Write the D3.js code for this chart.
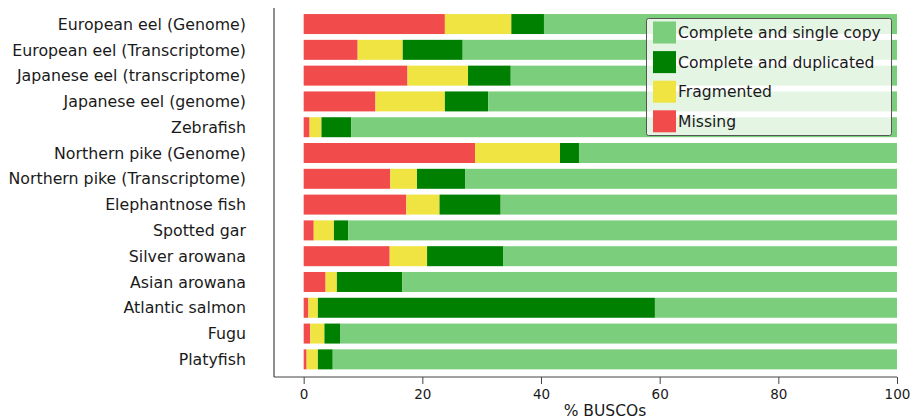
<!DOCTYPE html>
<html>
<head>
<meta charset="utf-8">
<script src="https://cdn.jsdelivr.net/npm/d3@7"></script>
<style>
  html, body { margin: 0; padding: 0; background: #fff; }
  svg { display: block; font-family: "DejaVu Sans", Verdana, sans-serif; }
</style>
</head>
<body>
<svg id="chart" width="913" height="419"></svg>
<script>
// BUSCO completeness per assembly (percent of BUSCO genes)
const categories = [
  "European eel (Genome)",
  "European eel (Transcriptome)",
  "Japanese eel (transcriptome)",
  "Japanese eel (genome)",
  "Zebrafish",
  "Northern pike (Genome)",
  "Northern pike (Transcriptome)",
  "Elephantnose fish",
  "Spotted gar",
  "Silver arowana",
  "Asian arowana",
  "Atlantic salmon",
  "Fugu",
  "Platyfish"
];
const missing    = [23.8,  9.1, 17.5, 12.1,  1.0, 28.9, 14.6, 17.3,  1.7, 14.5,  3.7,  0.8,  1.1,  0.5];
const fragmented = [11.2,  7.6, 10.2, 11.7,  2.0, 14.3,  4.5,  5.6,  3.4,  6.3,  1.9,  1.6,  2.4,  1.9];
const duplicated = [ 5.5, 10.1,  7.2,  7.3,  5.0,  3.2,  8.1, 10.3,  2.4, 12.8, 11.0, 56.8,  2.7,  2.5];
const single     = [59.5, 73.2, 65.1, 68.9, 92.0, 53.6, 72.8, 66.8, 92.5, 66.4, 83.4, 40.8, 93.8, 95.1];
const xTicks = [0, 20, 40, 60, 80, 100];

// stacking order from left to right
const keys = ["missing", "fragmented", "duplicated", "single"];
const legendLabels = {
  single: "Complete and single copy",
  duplicated: "Complete and duplicated",
  fragmented: "Fragmented",
  missing: "Missing"
};
const colors = {
  single: "#7bce7b",
  duplicated: "#008000",
  fragmented: "#f0e442",
  missing: "#f24b4b"
};

const rows = categories.map((c, i) => ({
  name: c,
  missing: missing[i],
  fragmented: fragmented[i],
  duplicated: duplicated[i],
  single: single[i]
}));

const svg = d3.select("#chart");
const plot = { left: 274, right: 897, top: 8, bottom: 377 };

const x = d3.scaleLinear().domain([-5, 100]).range([plot.left, plot.right]);
const y = d3.scaleBand()
  .domain(categories)
  .range([7.6, 375.8])
  .paddingInner(0.225)
  .paddingOuter(0.25);

const series = d3.stack().keys(keys)(rows);

// bars
svg.append("g")
  .selectAll("g")
  .data(series)
  .join("g")
  .attr("fill", d => colors[d.key])
  .selectAll("rect")
  .data(d => d)
  .join("rect")
  .attr("x", d => x(d[0]))
  .attr("y", d => y(d.data.name))
  .attr("width", d => x(d[1]) - x(d[0]))
  .attr("height", y.bandwidth());

// category labels
svg.append("g")
  .selectAll("text")
  .data(categories)
  .join("text")
  .attr("x", 246)
  .attr("y", d => y(d) + y.bandwidth() / 2)
  .attr("dy", "0.36em")
  .attr("text-anchor", "end")
  .attr("font-size", 15.8)
  .attr("fill", "#1a1a1a")
  .text(d => d);

// left spine
svg.append("line")
  .attr("x1", plot.left).attr("x2", plot.left)
  .attr("y1", plot.top).attr("y2", plot.bottom)
  .attr("stroke", "#444").attr("stroke-width", 1.2);

// x axis
const xAxis = d3.axisBottom(x).tickValues(xTicks).tickSize(7).tickPadding(5).tickFormat(d3.format("d"));
const gx = svg.append("g")
  .attr("transform", `translate(0,${plot.bottom})`)
  .call(xAxis);
gx.select(".domain").remove();
gx.append("line")
  .attr("x1", plot.left).attr("x2", plot.right)
  .attr("stroke", "#444").attr("stroke-width", 1.2);
gx.selectAll(".tick line").attr("stroke", "#444");
gx.selectAll(".tick text")
  .attr("font-size", 13.5)
  .attr("font-family", "DejaVu Sans, Verdana, sans-serif")
  .attr("fill", "#1a1a1a");

svg.append("text")
  .attr("x", 605)
  .attr("y", 415.5)
  .attr("text-anchor", "middle")
  .attr("font-size", 15.5)
  .attr("fill", "#1a1a1a")
  .text("% BUSCOs");

// legend
const legendKeys = ["single", "duplicated", "fragmented", "missing"];
const lg = svg.append("g").attr("transform", "translate(646,18)");
lg.append("rect")
  .attr("x", 0.5).attr("y", 0.5)
  .attr("width", 245).attr("height", 117)
  .attr("rx", 2)
  .attr("fill", "#fff").attr("fill-opacity", 0.8)
  .attr("stroke", "#555").attr("stroke-width", 1);
const items = lg.selectAll("g.item")
  .data(legendKeys)
  .join("g")
  .attr("class", "item")
  .attr("transform", (d, i) => `translate(0,${14.5 + i * 29.6})`);
items.append("rect")
  .attr("x", 7).attr("y", -11)
  .attr("width", 23).attr("height", 22)
  .attr("fill", d => colors[d]);
items.append("text")
  .attr("x", 32)
  .attr("y", 0)
  .attr("dy", "0.36em")
  .attr("font-size", 15.6)
  .attr("fill", "#1a1a1a")
  .text(d => legendLabels[d]);
</script>
</body>
</html>
